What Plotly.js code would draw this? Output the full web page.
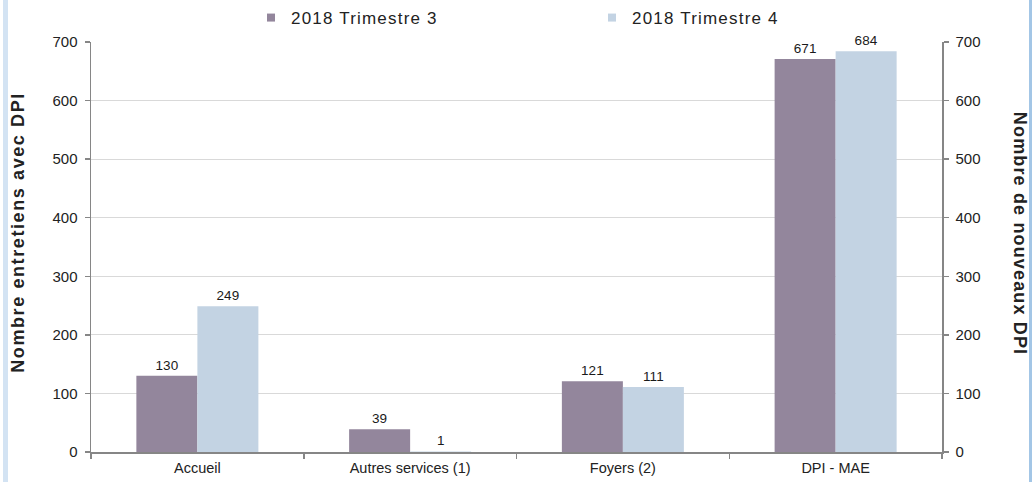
<!DOCTYPE html>
<html>
<head>
<meta charset="utf-8">
<script src="https://cdn.plot.ly/plotly-3.0.1.min.js"></script>
<style>
  html, body { margin: 0; padding: 0; background: #fff; }
  #wrap { position: relative; width: 1035px; height: 482px; overflow: hidden; }
  #chart { position: absolute; left: 0; top: 0; width: 1035px; height: 482px; }
  #bl { position: absolute; left: 3px; top: 0; width: 5px; height: 482px; background: #d3e3f3; }
  #br { position: absolute; left: 1029px; top: 0; width: 3px; height: 482px; background: #a3c6e6; }
  .legendtext { letter-spacing: 1.2px; }
  .annotation-text.spl { letter-spacing: 1.6px; }
  .annotation-text.spr { letter-spacing: 1.15px; }
</style>
</head>
<body>
<div id="wrap">
  <div id="chart"></div>
  <div id="bl"></div>
  <div id="br"></div>
</div>
<script>
const categories = ["Accueil", "Autres services (1)", "Foyers (2)", "DPI - MAE"];
const seriesNames = ["2018 Trimestre 3", "2018 Trimestre 4"];
const t3Values = [130, 39, 121, 671];
const t4Values = [249, 1, 111, 684];
const yTicks = [0, 100, 200, 300, 400, 500, 600, 700];
const leftTitle = "Nombre entretiens avec DPI";
const rightTitle = "Nombre de nouveaux DPI";

const colT3 = "#93869c";
const colT4 = "#c3d3e3";
const FONT = "Arial, 'Liberation Sans', sans-serif";

function barTrace(name, vals, color) {
  return {
    type: "bar", name: name, x: categories, y: vals,
    marker: { color: color },
    text: vals.map(String), textposition: "outside",
    textfont: { family: FONT, size: 13.5, color: "#1a1a1a" },
    constraintext: "none",
    cliponaxis: false, showlegend: false, hoverinfo: "x+y+name"
  };
}
function legendTrace(name, color) {
  return {
    type: "scatter", mode: "markers", name: name, x: [null], y: [null],
    marker: { symbol: "square", size: 8, color: color }, showlegend: true
  };
}

const traces = [
  barTrace(seriesNames[0], t3Values, colT3),
  barTrace(seriesNames[1], t4Values, colT4),
  legendTrace(seriesNames[0], colT3),
  legendTrace(seriesNames[1], colT4),
  { type: "scatter", x: [null], y: [null], yaxis: "y2", showlegend: false, hoverinfo: "skip" }
];

const axisCommon = {
  range: [0, 700], tickvals: yTicks, ticktext: yTicks.map(String),
  ticks: "outside", ticklen: 5, tickcolor: "#868686", tickwidth: 1.5,
  showline: true, linecolor: "#868686", linewidth: 1.5,
  tickfont: { family: FONT, size: 15, color: "#222" },
  zeroline: false, fixedrange: true
};

const layout = {
  width: 1035, height: 482,
  margin: { l: 91, r: 93, t: 42, b: 30, pad: 0, autoexpand: false },
  paper_bgcolor: "#ffffff", plot_bgcolor: "#ffffff",
  font: { family: FONT },
  barmode: "group", bargap: 0.4265, bargroupgap: 0,
  xaxis: {
    type: "category", categoryorder: "array", categoryarray: categories,
    ticks: "outside", tickson: "boundaries", ticklen: 5, tickcolor: "#868686", tickwidth: 1.5,
    showline: true, linecolor: "#868686", linewidth: 1.5,
    tickfont: { family: FONT, size: 14.5, color: "#222" },
    ticklabelstandoff: 2,
    showgrid: false, fixedrange: true, automargin: false
  },
  yaxis: Object.assign({}, axisCommon, { showgrid: true, gridcolor: "#d9d9d9", gridwidth: 1, ticklabelstandoff: 4, automargin: false }),
  yaxis2: Object.assign({}, axisCommon, { overlaying: "y", side: "right", showgrid: false, ticklabelstandoff: 4, automargin: false }),
  showlegend: true,
  legend: {
    orientation: "h", x: 0.188, xanchor: "left", y: 1.0585, yanchor: "middle",
    font: { family: FONT, size: 17, color: "#222" },
    entrywidth: 296, entrywidthmode: "pixels", itemclick: false, itemdoubleclick: false
  },
  annotations: [
    { text: "<b>" + leftTitle + "</b>", xref: "paper", yref: "paper", x: 0, y: 0.5,
      xanchor: "center", yanchor: "middle", xshift: -73.5, yshift: 14.5, textangle: -90,
      showarrow: false, font: { family: FONT, size: 18, color: "#222" } },
    { text: "<b>" + rightTitle + "</b>", xref: "paper", yref: "paper", x: 1, y: 0.5,
      xanchor: "center", yanchor: "middle", xshift: 77.5, yshift: 14, textangle: 90,
      showarrow: false, font: { family: FONT, size: 18, color: "#222" } }
  ]
};

Plotly.newPlot("chart", traces, layout, { displayModeBar: false, staticPlot: true }).then(function () {
  const els = document.querySelectorAll(".annotation-text");
  if (els[0]) els[0].classList.add("spl");
  if (els[1]) els[1].classList.add("spr");
});
</script>
</body>
</html>
